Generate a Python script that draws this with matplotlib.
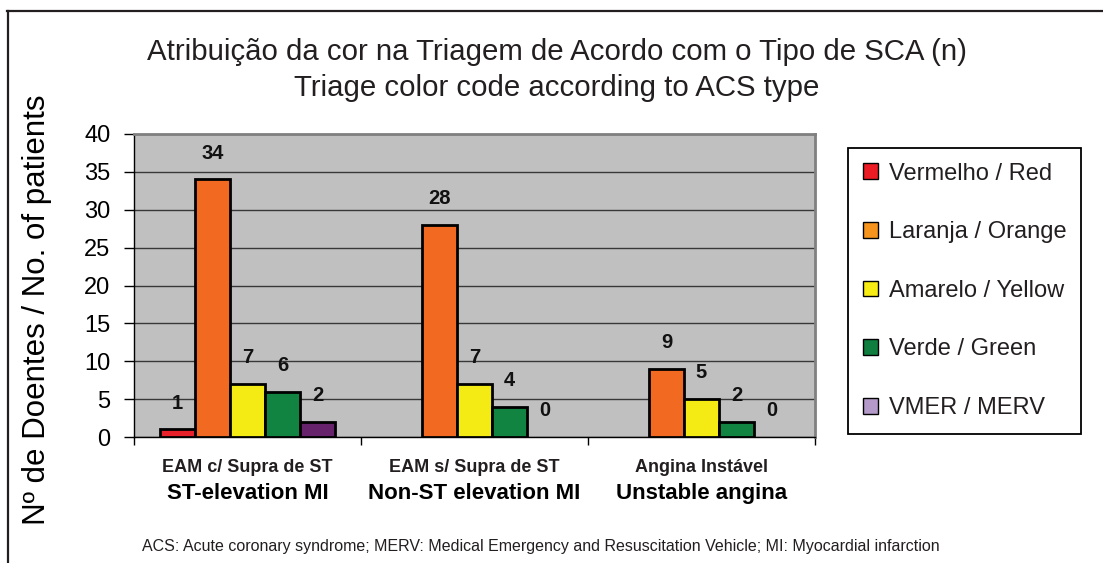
import numpy as np
import matplotlib
matplotlib.use("Agg")
import matplotlib.pyplot as plt
from matplotlib.patches import Patch
from matplotlib.lines import Line2D
from matplotlib.transforms import blended_transform_factory

plt.rcParams['font.family'] = ['Liberation Sans', 'DejaVu Sans']

# ---- data ----
categories_pt = ["EAM c/ Supra de ST", "EAM s/ Supra de ST", "Angina Instável"]
categories_en = ["ST-elevation MI", "Non-ST elevation MI", "Unstable angina"]
series_names = ["Vermelho / Red", "Laranja / Orange", "Amarelo / Yellow",
                "Verde / Green", "VMER / MERV"]
red = [1, np.nan, np.nan]
orange = [34, 28, 9]
yellow = [7, 7, 5]
green = [6, 4, 2]
vmer = [2, 0, 0]
series_values = [red, orange, yellow, green, vmer]
yticks = [0, 5, 10, 15, 20, 25, 30, 35, 40]

title_pt = "Atribuição da cor na Triagem de Acordo com o Tipo de SCA (n)"
title_en = "Triage color code according to ACS type"
ylabel = "Nº de Doentes / No. of patients"
footnote = ("ACS: Acute coronary syndrome; MERV: Medical Emergency and "
            "Resuscitation Vehicle; MI: Myocardial infarction")

# ---- styles ----
bar_colors = ["#E8202A", "#F26A22", "#F5EB14", "#118442", "#66226A"]
legend_colors = ["#ED1C24", "#F7941D", "#F7EC13", "#0F7E3E", "#B49AC8"]

W, H = 1103, 563
fig = plt.figure(figsize=(W / 100, H / 100), dpi=100)
fig.patch.set_facecolor("white")

L, R, T, B = 134, 815, 134, 437
ax = fig.add_axes([L / W, 1 - B / H, (R - L) / W, (B - T) / H])
ax.set_facecolor("#C0C0C0")

x = np.arange(len(categories_pt))
n = len(series_values)
bw = 35 / 227
for i, (vals, col) in enumerate(zip(series_values, bar_colors)):
    vals = np.array(vals, dtype=float)
    bars = ax.bar(x + (i - (n - 1) / 2) * bw, np.nan_to_num(vals, nan=0.0), bw,
                  color=col, edgecolor="black", linewidth=2.0, zorder=3)
    for b, v in zip(bars, vals):
        if np.isnan(v):
            b.set_visible(False)
        elif v == 0:
            b.set_linewidth(0)
    labels = ["" if np.isnan(v) else f"{v:g}" for v in vals]
    ax.bar_label(bars, labels=labels, padding=12, fontsize=14.5,
                 fontweight="bold", color="#111111")

ax.set_xlim(-0.5, len(categories_pt) - 0.5)
ax.set_ylim(0, 40)
ax.set_yticks(yticks)
ax.tick_params(axis="y", labelsize=17, length=7, width=1, pad=10,
               direction="out", colors="black")
ax.yaxis.grid(True, color="#383838", linewidth=1.0, zorder=1)
ax.set_axisbelow(True)

# category boundaries as tick marks, labels at category centres
ax.set_xticks(np.arange(-0.5, len(categories_pt), 1.0))
ax.set_xticklabels([])
ax.tick_params(axis="x", which="major", length=6, width=1, direction="out")
ax.set_xticks(x, minor=True)
ax.set_xticklabels(categories_pt, minor=True, fontsize=13, fontweight="bold",
                   color="#231F20")
ax.tick_params(axis="x", which="minor", length=0, pad=16)
trans = blended_transform_factory(ax.transData, ax.transAxes)
for xi, lab in zip(x, categories_en):
    ax.annotate(lab, xy=(xi, 0), xycoords=trans, xytext=(0, -41),
                textcoords="offset points", ha="center", va="center",
                fontsize=16, fontweight="bold", color="black")

for s in ["left", "bottom"]:
    ax.spines[s].set_color("black")
    ax.spines[s].set_linewidth(1.0)
for s in ["top", "right"]:
    ax.spines[s].set_color("#808080")
    ax.spines[s].set_linewidth(2.0)

ax.set_ylabel(ylabel, fontsize=22.5, labelpad=0)
ax.yaxis.set_label_coords((52 - L) / (R - L), (B - 310) / (B - T))

# titles
fig.text(557 / W, 1 - 52 / H, title_pt, ha="center", va="center",
         fontsize=21.2, color="#231F20")
fig.text(557 / W, 1 - 88 / H, title_en, ha="center", va="center",
         fontsize=21.2, color="#231F20")

# legend
handles = [Patch(facecolor=c, edgecolor="black", linewidth=1.0)
           for c in legend_colors]
leg = fig.legend(handles, series_names, loc="upper left",
                 bbox_to_anchor=(848 / W, 1 - 148 / H), fontsize=17,
                 frameon=True, fancybox=False, framealpha=1,
                 edgecolor="black", handlelength=0.65, handleheight=0.65,
                 handletextpad=0.45, labelspacing=1.55, borderpad=0.62,
                 borderaxespad=0)
leg.get_frame().set_linewidth(1.3)
for t in leg.get_texts():
    t.set_color("#231F20")

# footnote
fig.text(541 / W, 1 - 546 / H, footnote, ha="center", va="center",
         fontsize=11.5, color="#231F20")

# figure frame (top and left)
fig.add_artist(Line2D([7 / W, 1.0], [1 - 11 / H, 1 - 11 / H],
                      transform=fig.transFigure, color="#231F20", lw=1.6))
fig.add_artist(Line2D([8 / W, 8 / W], [1 - 11 / H, 0.0],
                      transform=fig.transFigure, color="#231F20", lw=1.6))

fig.savefig("out.png", dpi=100)
